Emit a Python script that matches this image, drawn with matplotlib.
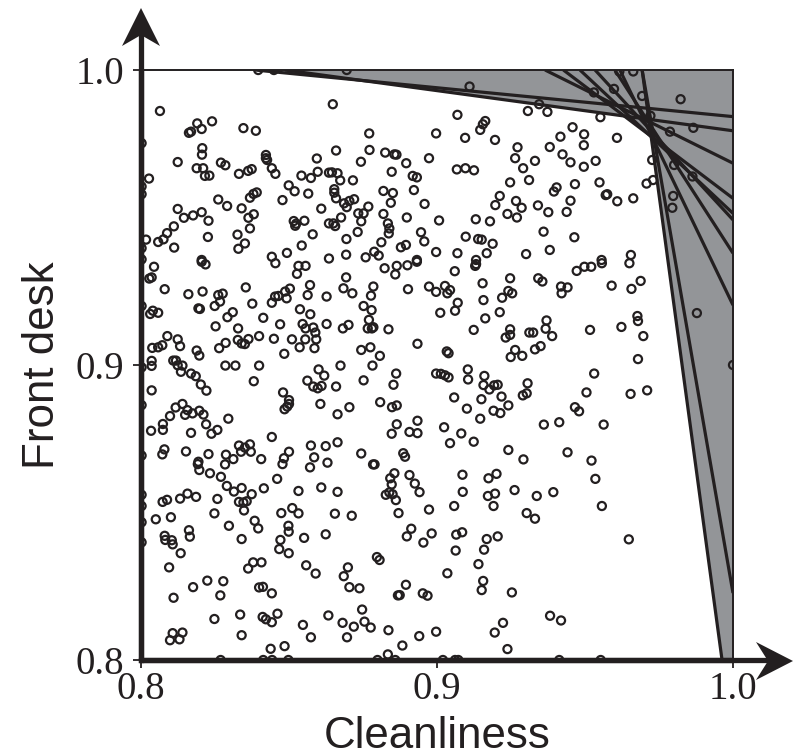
import numpy as np
import matplotlib
matplotlib.use("Agg")
import matplotlib.pyplot as plt
from matplotlib.patches import Polygon

INK = "#231f20"
GREY = "#939598"

# (cleanliness, front desk) scores
upper_left = [
(.8064,.9861),(.8190,.9819),(.8240,.9826),(.8205,.9800),(.8169,.9791),(.8162,.9787),(.8346,.9803),(.8388,.9794),
(.8207,.9735),(.8206,.9713),(.8124,.9688),(.8188,.9667),(.8210,.9667),(.8270,.9686),(.8285,.9677),(.8216,.9641),
(.8231,.9642),(.8331,.9648),(.8362,.9658),(.8374,.9664),(.8422,.9712),(.8422,.9701),(.8426,.9695),(.8442,.9667),
(.8454,.9648),(.8594,.9700),(.8597,.9655),(.8542,.9642),(.8574,.9634),(.8635,.9652),(.8499,.9609),(.8519,.9589),
(.8565,.9581),(.8478,.9559),(.8027,.9632),(.8261,.9561),(.8291,.9539),(.8391,.9585),(.8380,.9580),(.8368,.9567),
(.8124,.9529),(.8145,.9499),(.8176,.9507),(.8205,.9518),(.8228,.9489),(.8340,.9531),(.8381,.9511),(.8363,.9499),
(.8368,.9463),(.8111,.9470),(.8088,.9447),(.8076,.9426),(.8058,.9417),(.8017,.9425),(.8112,.9398),(.8226,.9434),
(.8326,.9442),(.8351,.9412),(.8329,.9394),(.8516,.9488),(.8524,.9479),(.8552,.9489),(.8521,.9472),(.8609,.9530),
(.8580,.9443),(.8543,.9405),(.8493,.9380),(.8442,.9367),(.8635,.9480),(.8635,.9361),(.8205,.9356),(.8396,1.0),
(.8449,1.0),(.8002,.9752),(.8002,.9605),(.8002,.9579),(.8002,.9396),(.8002,.9358),
]
upper_middle = [
(.8695,1.0),(.9110,.9944),(.8648,.9884),(.9069,.9848),(.9163,.9827),(.9155,.9816),(.9146,.9797),(.9307,.9861),
(.8771,.9785),(.8997,.9785),(.9095,.9770),(.9196,.9763),(.9272,.9738),(.8659,.9727),(.8772,.9729),(.8825,.9720),
(.8856,.9714),(.8863,.9713),(.8743,.9689),(.8896,.9684),(.8973,.9701),(.9264,.9701),(.9291,.9667),(.9067,.9663),
(.9096,.9667),(.9125,.9660),(.8847,.9655),(.8664,.9650),(.8645,.9653),(.8716,.9626),(.8673,.9626),(.8918,.9641),
(.8932,.9636),(.9247,.9619),(.9311,.9627),(.8922,.9593),(.8819,.9590),(.8851,.9583),(.8653,.9596),(.8653,.9584),
(.8659,.9565),(.8720,.9562),(.8704,.9556),(.8686,.9548),(.8695,.9535),(.9212,.9573),(.9267,.9556),(.9286,.9533),
(.9197,.9542),(.9238,.9512),(.9270,.9500),(.8958,.9546),(.8844,.9550),(.8768,.9537),(.8752,.9514),(.8734,.9514),
(.8819,.9512),(.8676,.9500),(.8744,.9487),(.8898,.9500),(.9007,.9490),(.9131,.9494),(.9179,.9487),(.8834,.9480),
(.8839,.9463),(.8837,.9446),(.8650,.9480),(.8656,.9471),(.8732,.9451),(.8946,.9450),(.8694,.9427),(.8957,.9419),
(.9097,.9435),(.9139,.9427),(.9151,.9425),(.9188,.9411),(.8812,.9416),(.8895,.9407),(.8878,.9399),(.8997,.9383),
(.9069,.9379),(.9168,.9379),(.9301,.9376),(.8693,.9374),(.8788,.9384),(.8759,.9365),(.8803,.9371),(.8932,.9356),
(.9132,.9356),
]
centre_left = [
(.8044,.9333),(.8036,.9297),(.8028,.9293),(.8080,.9257),(.8160,.9240),(.8208,.9249),(.8205,.9350),(.8218,.9341),
(.8454,.9345),(.8532,.9336),(.8556,.9336),(.8527,.9309),(.8571,.9271),(.8354,.9263),(.8563,.9237),(.8627,.9232),
(.8503,.9259),(.8487,.9249),(.8464,.9234),(.8453,.9232),(.8492,.9226),(.8442,.9211),(.8376,.9208),(.8261,.9237),
(.8276,.9242),(.8267,.9215),(.8249,.9200),(.8002,.9200),(.8194,.9192),(.8199,.9190),(.8040,.9184),(.8031,.9173),
(.8058,.9177),(.8310,.9179),(.8292,.9162),(.8413,.9160),(.8537,.9189),(.8572,.9172),(.8470,.9138),(.8546,.9139),
(.8556,.9124),(.8582,.9127),(.8589,.9110),(.8627,.9139),(.8252,.9131),(.8328,.9124),(.8089,.9098),(.8124,.9087),
(.8132,.9064),(.8072,.9067),(.8058,.9060),(.8038,.9058),(.8327,.9085),(.8340,.9073),(.8351,.9071),(.8363,.9088),
(.8399,.9098),(.8286,.9075),(.8264,.9057),(.8449,.9089),(.8510,.9087),(.8555,.9087),(.8592,.9087),(.8536,.9060),
(.8586,.9057),(.8484,.9038),(.8188,.9049),(.8197,.9032),(.8036,.9014),(.8036,.8997),(.8002,.8992),(.8109,.9015),
(.8118,.9015),(.8124,.8999),(.8140,.8998),(.8135,.8977),(.8169,.8971),(.8185,.8962),(.8202,.8934),(.8221,.8913),
(.8285,.8998),(.8319,.8998),(.8399,.8998),(.8381,.8945),(.8600,.8985),(.8619,.8964),(.8562,.8947),(.8582,.8927),
(.8597,.8921),(.8610,.8929),(.8036,.8914),(.8480,.8907),(.8500,.8881),(.8500,.8868),(.8494,.8859),(.8485,.8850),
(.8606,.8868),(.8002,.8864),(.8140,.8868),(.8117,.8856),(.8157,.8847),(.8149,.8831),(.8098,.8827),(.8174,.8836),
(.8197,.8845),(.8211,.8832),(.8220,.8799),(.8295,.8818),(.8074,.8800),(.8074,.8780),(.8034,.8777),(.8169,.8770),
(.8258,.8780),(.8238,.8767),(.8442,.8756),(.8331,.8727),(.8351,.8720),(.8368,.8731),(.8338,.8706),(.8371,.8706),
(.8287,.8696),(.8312,.8681),(.8406,.8681),(.8574,.8727),(.8624,.8725),(.8079,.8714),(.8072,.8697),(.8152,.8707),
(.8228,.8698),(.8500,.8706),(.8483,.8684),(.8585,.8687),(.8002,.8693),(.8194,.8672),
]
centre_middle = [
(.8823,.9328),(.8864,.9336),(.8859,.9307),(.8900,.9338),(.8932,.9350),(.9060,.9318),(.9132,.9342),(.9129,.9336),
(.8693,.9297),(.8684,.9260),(.8714,.9243),(.8785,.9266),(.8777,.9235),(.8902,.9257),(.8973,.9266),(.8997,.9248),
(.9027,.9268),(.9044,.9254),(.9035,.9243),(.9154,.9277),(.9247,.9294),(.9241,.9251),(.9254,.9243),(.9220,.9228),
(.9157,.9220),(.9070,.9211),(.9061,.9184),(.9011,.9177),(.9212,.9179),(.9163,.9158),(.8752,.9200),(.8779,.9186),
(.8770,.9153),(.8701,.9136),(.8682,.9124),(.8766,.9124),(.8785,.9128),(.8780,.9124),(.8836,.9121),(.9124,.9119),
(.9247,.9121),(.9232,.9093),(.9247,.9102),(.9312,.9110),(.8934,.9072),(.8744,.9051),(.8775,.9060),(.8807,.9031),
(.8782,.8998),(.8674,.8998),(.9033,.9046),(.9039,.9040),(.9264,.9051),(.9249,.9027),(.9288,.9031),(.9104,.8985),
(.8862,.8971),(.8752,.8948),(.8853,.8933),(.8659,.8927),(.8997,.8971),(.9013,.8970),(.9027,.8965),(.9039,.8958),
(.9105,.8951),(.9160,.8963),(.9157,.8932),(.9177,.8917),(.9193,.8931),(.9205,.8933),(.9306,.8938),(.9303,.8904),
(.9290,.8897),(.9058,.8890),(.9150,.8884),(.9218,.8893),(.8808,.8874),(.8848,.8857),(.8864,.8863),(.9101,.8852),
(.9241,.8863),(.9191,.8845),(.9214,.8837),(.8704,.8857),(.8664,.8833),(.9146,.8818),(.8934,.8811),(.8864,.8799),
(.9024,.8789),(.8847,.8767),(.8907,.8773),(.8934,.8769),(.9082,.8768),(.8664,.8738),(.9044,.8735),(.9124,.8740),
(.9241,.8712),(.8744,.8700),(.8886,.8701),(.8892,.8689),(.9292,.8680),
]
lower_left = [
(.8192,.8664),(.8197,.8644),(.8233,.8633),(.8270,.8621),(.8284,.8663),(.8478,.8664),(.8571,.8653),(.8630,.8669),
(.8460,.8614),(.8290,.8590),(.8340,.8583),(.8314,.8571),(.8415,.8582),(.8374,.8562),(.8532,.8573),(.8609,.8585),
(.8258,.8546),(.8331,.8536),(.8346,.8534),(.8357,.8538),(.8348,.8507),(.8157,.8564),(.8186,.8553),(.8132,.8547),
(.8088,.8543),(.8073,.8536),(.8002,.8560),(.8002,.8522),(.8248,.8497),(.8101,.8484),(.8050,.8477),(.8002,.8467),
(.8511,.8515),(.8532,.8497),(.8474,.8498),(.8384,.8472),(.8396,.8446),(.8297,.8455),(.8498,.8455),(.8499,.8435),
(.8624,.8426),(.8551,.8414),(.8340,.8410),(.8471,.8407),(.8162,.8440),(.8165,.8418),(.8080,.8421),(.8082,.8407),
(.8104,.8406),(.8107,.8392),(.8002,.8399),(.8134,.8362),(.8467,.8376),(.8499,.8362),(.8379,.8331),(.8407,.8331),
(.8362,.8310),(.8558,.8321),(.8590,.8293),(.8095,.8314),(.8224,.8269),(.8278,.8267),(.8176,.8247),(.8268,.8219),
(.8110,.8211),(.8399,.8246),(.8412,.8248),(.8442,.8226),(.8335,.8154),(.8248,.8139),(.8411,.8146),(.8422,.8138),
(.8442,.8128),(.8461,.8157),(.8633,.8151),(.8547,.8119),(.8574,.8077),(.8340,.8084),(.8107,.8091),(.8140,.8093),
(.8098,.8067),(.8130,.8070),(.8485,.8047),(.8438,.8038),(.8269,.8),(.8413,.8),(.8443,.8),(.8498,.8),
]
lower_middle = [
(.8789,.8663),(.8784,.8663),(.8856,.8633),(.8842,.8616),(.8907,.8627),(.8847,.8595),(.8925,.8598),(.8941,.8569),
(.9086,.8628),(.9174,.8616),(.9201,.8631),(.9087,.8570),(.9172,.8556),(.9196,.8564),(.9262,.8576),(.8664,.8570),
(.8827,.8560),(.8839,.8568),(.8850,.8562),(.8861,.8542),(.9058,.8522),(.9191,.8522),(.8973,.8510),(.8870,.8498),
(.8655,.8496),(.8712,.8489),(.9303,.8498),(.8913,.8445),(.8898,.8419),(.8982,.8429),(.8954,.8398),(.9065,.8425),
(.9085,.8433),(.9168,.8410),(.9205,.8419),(.9159,.8374),(.9063,.8371),(.9140,.8325),(.8797,.8349),(.8806,.8339),
(.8699,.8314),(.8685,.8284),(.9035,.8294),(.8704,.8247),(.8738,.8243),(.8895,.8255),(.9156,.8268),(.9151,.8237),
(.9253,.8229),(.8952,.8226),(.8968,.8218),(.8868,.8219),(.8874,.8220),(.8747,.8171),(.8755,.8130),(.8681,.8126),
(.8719,.8113),(.8776,.8110),(.8836,.8101),(.8997,.8096),(.9223,.8126),(.9195,.8093),(.8696,.8077),(.8940,.8081),
(.8883,.8049),(.9238,.8037),(.8834,.8019),(.8799,.8),(.8859,.8),(.9020,.8),(.9061,.8),(.9072,.8),
]
lower_right = [
(.9472,.9319),(.9498,.9333),(.9521,.9333),(.9557,.9345),(.9650,.9345),(.9342,.9294),(.9356,.9283),(.9419,.9266),
(.9441,.9263),(.9421,.9243),(.9590,.9269),(.9657,.9258),(.9688,.9285),(.9370,.9151),(.9367,.9123),(.9325,.9110),
(.9389,.9098),(.9350,.9064),(.9331,.9053),(.9517,.9119),(.9623,.9129),(.9677,.9166),(.9679,.9149),(.9697,.9098),
(.9679,.9020),(.9531,.8971),(.9505,.8907),(.9654,.8902),(.9710,.8914),(.9466,.8857),(.9480,.8843),(.9361,.8798),
(.9413,.8806),(.9563,.8798),(.9441,.8704),(.9522,.8676),(.9535,.8614),(.9393,.8569),(.9337,.8556),(.9557,.8522),
(.9331,.8479),(.9648,.8409),(.9382,.8150),(.9419,.8134),(.9413,.8),(.9553,.8),(.9878,.9176),(1.0,.9),
]
upper_right = [
(.9616,.9995),(.9663,.9995),(.9530,.9924),(.9598,.9936),(.9693,.9912),(.9823,.9901),(.9721,.9845),(.9787,.9791),
(.9866,.9804),(.9345,.9884),(.9373,.9858),(.9552,.9840),(.9458,.9806),(.9497,.9782),(.9417,.9774),(.9608,.9770),
(.9496,.9745),(.9381,.9739),(.9424,.9714),(.9451,.9687),(.9331,.9692),(.9536,.9692),(.9496,.9672),(.9727,.9695),
(.9801,.9678),(.9863,.9639),(.9466,.9613),(.9549,.9619),(.9708,.9615),(.9730,.9627),(.9404,.9602),(.9395,.9588),
(.9570,.9576),(.9575,.9579),(.9609,.9555),(.9663,.9565),(.9798,.9573),(.9795,.9533),(.9451,.9557),(.9341,.9541),
(.9376,.9518),(.9438,.9519),(.9360,.9452),(.9464,.9433),(.9381,.9390),(.9655,.9373),(.9556,.9356),
]
ratings = np.array(upper_left + upper_middle + centre_left + centre_middle
                   + lower_left + lower_middle + lower_right + upper_right)

# Boundary lines: where each one leaves the box, as (x, y) at both ends
line_start = [(.8385,1.0),(.8486,1.0),(.9365,1.0),(.9427,1.0),(.9483,1.0),(.9534,1.0),
              (.9601,1.0),(.9618,1.0),(.9693,1.0),(.9693,1.0)]
line_end = [(1.0,.9842),(1.0,.9794),(1.0,.9684),(1.0,.9565),(1.0,.9514),(1.0,.9492),
            (1.0,.9379),(1.0,.9203),(.9963,.8),(1.0,.8227)]

tick_values = [0.8, 0.9, 1.0]
tick_labels = ["0.8", "0.9", "1.0"]

W, H = 799, 753
fig = plt.figure(figsize=(W / 100, H / 100), dpi=100, facecolor="white")
ax = fig.add_axes([141 / W, 1 - 660 / H, 592 / W, 590 / H])
ax.set_xlim(0.8, 1.0)
ax.set_ylim(0.8, 1.0)

# Grey area: everything above at least one of the lines
xs = np.linspace(0.8, 1.0, 2001)
lowest = np.full_like(xs, 1.0)
for (x0, y0), (x1, y1) in zip(line_start, line_end):
    lowest = np.minimum(lowest, y0 + (y1 - y0) / (x1 - x0) * (xs - x0))
lowest = np.clip(lowest, 0.8, 1.0)
ax.fill_between(xs, lowest, 1.0, where=lowest < 1.0, color=GREY, lw=0, zorder=1)

ax.scatter(ratings[:, 0], ratings[:, 1], s=34, facecolors="none",
           edgecolors=INK, linewidths=1.6, zorder=2)

for (x0, y0), (x1, y1) in zip(line_start, line_end):
    ax.plot([x0, x1], [y0, y1], color=INK, lw=2.3, zorder=3, solid_capstyle="butt")

for side in ("top", "right"):
    ax.spines[side].set_linewidth(1.4)
    ax.spines[side].set_color(INK)
for side in ("left", "bottom"):
    ax.spines[side].set_linewidth(3.8)
    ax.spines[side].set_color(INK)
    ax.spines[side].set_capstyle("butt")
ax.spines["left"].set_zorder(5)
ax.spines["bottom"].set_zorder(5)

ax.set_xticks(tick_values, tick_labels)
ax.set_yticks(tick_values, tick_labels)
ax.tick_params(axis="both", length=6, width=1.3, color=INK, labelcolor=INK,
               labelsize=28)
for lab in ax.get_xticklabels() + ax.get_yticklabels():
    lab.set_family("Liberation Serif")
ax.tick_params(axis="y", pad=6)
ax.tick_params(axis="x", pad=2)


def px(x, y):
    return (x / W, 1 - y / H)


# Arrow shafts and heads
for a, b in (((141, 660), (141, 25)), ((141, 660), (775, 660))):
    fig.add_artist(plt.Line2D(*zip(px(*a), px(*b)), color=INK, lw=3.8,
                              transform=fig.transFigure, zorder=6))
fig.add_artist(Polygon([px(141, 8), px(160, 46), px(141, 35), px(122, 46)], closed=True,
                       transform=fig.transFigure, fc=INK, ec="none", zorder=7))
fig.add_artist(Polygon([px(793, 661), px(756, 680), px(768, 661), px(756, 642)], closed=True,
                       transform=fig.transFigure, fc=INK, ec="none", zorder=7))

fig.text(437 / W, 1 - 748 / H, "Cleanliness", family="Liberation Sans", fontsize=31.6,
         color=INK, ha="center", va="baseline")
fig.text(54 / W, 1 - 365 / H, "Front desk", family="Liberation Sans", fontsize=31.6,
         color=INK, ha="center", va="baseline", rotation=90, rotation_mode="anchor")

fig.savefig("out.png", dpi=100, facecolor="white")
